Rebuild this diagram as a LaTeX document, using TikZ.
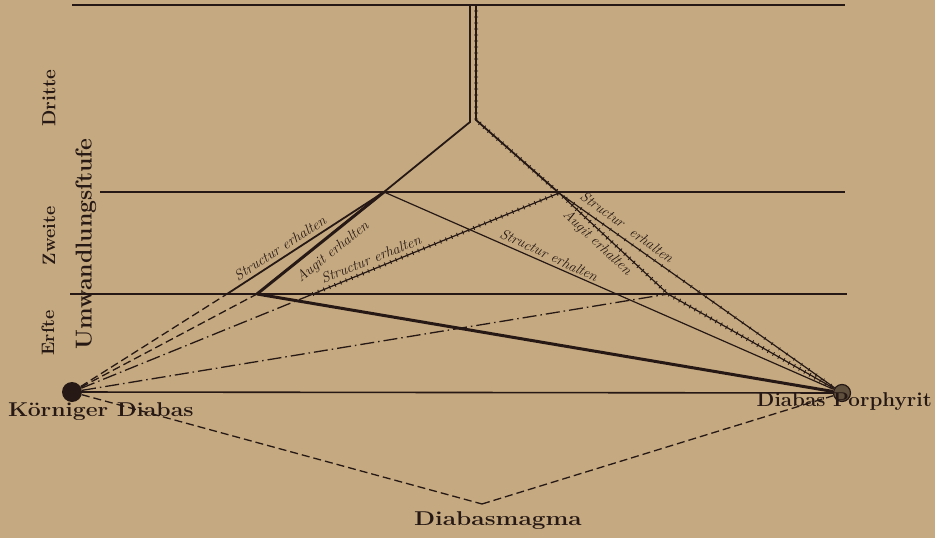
\documentclass[tikz,border=0pt]{standalone}
\usepackage{fontspec}
\usetikzlibrary{decorations.pathreplacing}
\definecolor{paper}{RGB}{197,169,128}
\definecolor{ink}{RGB}{38,24,20}
\definecolor{grain}{RGB}{95,80,62}
\begin{document}
\begin{tikzpicture}[x=1pt,y=-1pt,
  hline/.style={draw=ink,line width=1.6pt},
  thinl/.style={draw=ink,line width=1.2pt},
  thickl/.style={draw=ink,line width=3pt},
  dashl/.style={draw=ink,line width=1.3pt,dash pattern=on 8pt off 4pt},
  dotdash/.style={draw=ink,line width=1.3pt,dash pattern=on 14pt off 4pt on 1.5pt off 4pt},
  hatched/.style={draw=ink,line width=1.2pt,postaction={draw=ink,line width=0.9pt,decorate,decoration={ticks,segment length=6pt,amplitude=2pt}}},
  lighthatched/.style={draw=ink,line width=1.2pt,postaction={draw=ink,line width=0.7pt,decorate,decoration={ticks,segment length=9pt,amplitude=1.6pt}}},
  lbl/.style={font=\itshape\fontsize{14.5}{14.5}\selectfont,text=ink,inner sep=0pt},
  stagelbl/.style={font=\bfseries\fontsize{18}{18}\selectfont,text=ink,rotate=90,inner sep=0pt},
  biglbl/.style={font=\bfseries\fontsize{20}{20}\selectfont,text=ink,inner sep=0pt},
  ]
\useasboundingbox[fill=paper] (0,0) rectangle (935,538);
% points
\coordinate (T1) at (72,5);   \coordinate (T2) at (845,5);
\coordinate (Z1) at (100,192); \coordinate (Z2) at (845,192);
\coordinate (E1) at (70,294);  \coordinate (E2) at (847,294);
\coordinate (VLt) at (470,5); \coordinate (VLb) at (470,122);
\coordinate (VRt) at (476,5); \coordinate (VRb) at (476,120);
\coordinate (A) at (384,192);
\coordinate (C) at (559,193);
\coordinate (S1) at (227,294);
\coordinate (B) at (257,294);
\coordinate (E) at (313,294);
\coordinate (D) at (668,294);
\coordinate (M) at (482,504);
% dots
\node[circle,fill=ink,minimum size=20pt,inner sep=0pt] (K) at (72,392) {};
\node[circle,fill=grain,draw=ink,line width=1.2pt,minimum size=17pt,inner sep=0pt] (P) at (842,393) {};
% horizontal stage lines
\draw[hline] (T1) -- (T2);
\draw[hline] (Z1) -- (Z2);
\draw[hline] (E1) -- (E2);
\draw[hline] (K) -- (P);
% double vertical and branches
\draw[thinl,line width=1.8pt] (VLt) -- (VLb) -- (A) -- (S1);
\draw[hatched,line width=1.8pt] (VRt) -- (VRb) -- (C);
\draw[lighthatched] (C) -- (P);
\draw[thinl] (A) -- (P);
\draw[thickl] (B) -- (A);
\draw[thickl] (B) -- (P);
\draw[hatched] (E) -- (C);
\draw[hatched] (C) -- (D) -- (P);
% dashed lines from K
\draw[dashl] (K) -- (S1);
\draw[dashl] (K) -- (B);
\draw[dotdash] (K) -- (E);
\draw[dotdash] (K) -- (D);
\draw[dashl] (K) -- (M);
\draw[dashl] (M) -- (P);
% line labels
\node[lbl,rotate=33] (l1) at (280,248) {Structur erhalten};
\node[lbl,rotate=38.5] (l2) at (333,252) {Augit erhalten};
\node[lbl,rotate=22] (l3) at (371,259) {Structur erhalten};
\node[lbl,rotate=-25] (l4) at (549,255) {Structur erhalten};
\node[lbl,rotate=-43] (l5) at (597,243) {Augit erhalten};
\node[lbl,rotate=-36] (l6) at (627,227) {Structur\ \ erhalten};
% stage labels
\node[stagelbl,font=\bfseries\fontsize{19}{19}\selectfont] (dr) at (49,98) {Dritte};
\node[stagelbl] (zw) at (49,236) {Zweite};
\node[stagelbl] (er) at (48,333) {Erſte};
\node[stagelbl,font=\bfseries\fontsize{23}{23}\selectfont] (uw) at (86,244) {Umwandlungsſtufe};
% names
\node[biglbl,anchor=base west] (kd) at (8,416) {\scalebox{1.15}[1]{Körniger Diabas}};
\node[biglbl,anchor=base east] (dp) at (932,406) {\scalebox{1.03}[1]{Diabas Porphyrit}};
\node[biglbl,anchor=base] (dm) at (498,525) {\scalebox{1.22}[1]{Diabasmagma}};
\end{tikzpicture}
\end{document}
